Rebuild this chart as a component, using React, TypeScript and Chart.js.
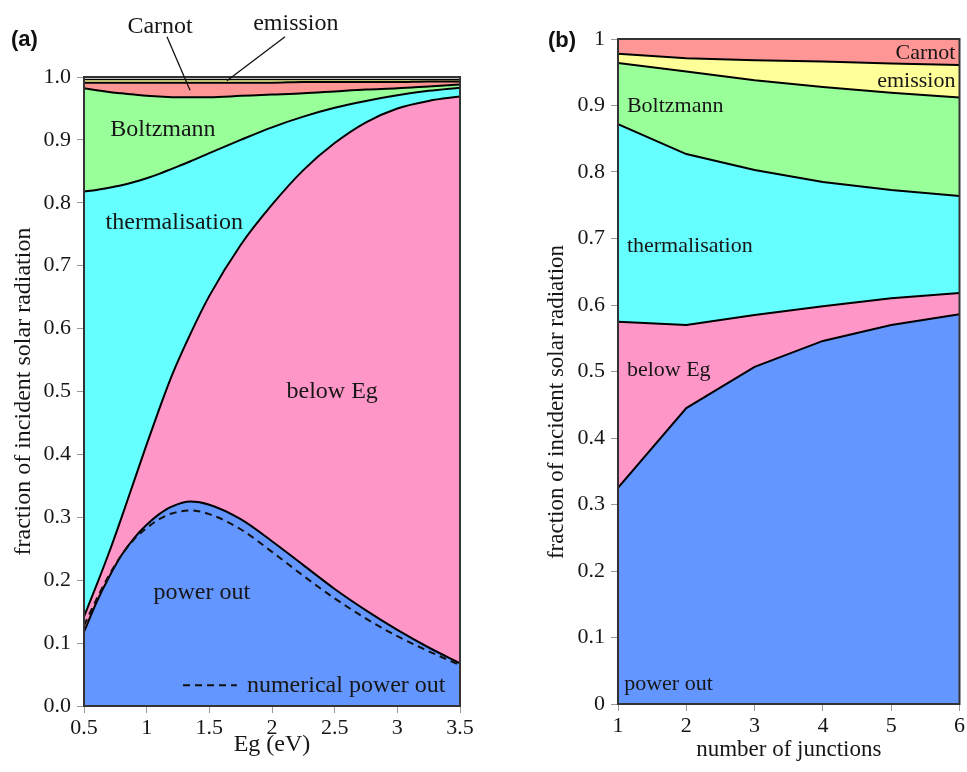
import React, { useEffect, useRef } from 'react';
import { Chart, registerables } from 'chart.js';
Chart.register(...registerables);

// ---------- Panel (a) data ----------
const EG = [0.5, 0.6, 0.7, 0.8, 0.9, 1.0, 1.1, 1.2, 1.35, 1.5, 1.75, 2.0, 2.25, 2.5, 2.75, 3.0, 3.25, 3.5];
const POWER_OUT = [0.118, 0.165, 0.205, 0.240, 0.267, 0.288, 0.305, 0.317, 0.325, 0.320, 0.297, 0.262, 0.224, 0.186, 0.152, 0.121, 0.093, 0.068];
const NUMERICAL_POWER_OUT = [0.128, 0.170, 0.208, 0.240, 0.265, 0.283, 0.297, 0.306, 0.311, 0.305, 0.281, 0.245, 0.207, 0.171, 0.139, 0.111, 0.087, 0.065];
const BELOW_EG_TOP = [0.142, 0.192, 0.244, 0.300, 0.358, 0.416, 0.472, 0.525, 0.592, 0.652, 0.733, 0.797, 0.852, 0.895, 0.928, 0.950, 0.962, 0.969];
const THERM_TOP = [0.818, 0.8205, 0.824, 0.828, 0.833, 0.839, 0.846, 0.854, 0.866, 0.879, 0.900, 0.920, 0.937, 0.951, 0.962, 0.971, 0.978, 0.983];
const BOLTZ_TOP = [0.982, 0.979, 0.976, 0.974, 0.972, 0.970, 0.969, 0.968, 0.968, 0.968, 0.970, 0.972, 0.974, 0.977, 0.980, 0.982, 0.985, 0.988];
const CARNOT_TOP = [0.991, 0.991, 0.991, 0.991, 0.991, 0.991, 0.991, 0.991, 0.991, 0.991, 0.991, 0.991, 0.992, 0.992, 0.992, 0.992, 0.993, 0.993];
const EMISSION_TOP = [0.996, 0.996, 0.996, 0.996, 0.996, 0.996, 0.996, 0.996, 0.996, 0.996, 0.996, 0.996, 0.996, 0.996, 0.996, 0.996, 0.996, 0.996];

// ---------- Panel (b) data ----------
const JUNCTIONS = [1, 2, 3, 4, 5, 6];
const B_POWER_OUT = [0.325, 0.445, 0.507, 0.546, 0.570, 0.586];
const B_BELOW_EG_TOP = [0.575, 0.570, 0.585, 0.598, 0.610, 0.618];
const B_THERM_TOP = [0.872, 0.827, 0.803, 0.785, 0.773, 0.764];
const B_BOLTZ_TOP = [0.964, 0.951, 0.938, 0.928, 0.919, 0.912];
const B_EMISSION_TOP = [0.978, 0.971, 0.968, 0.966, 0.963, 0.961];
const B_CARNOT_TOP = [1, 1, 1, 1, 1, 1];

const SERIF = '"Liberation Serif", "Times New Roman", serif';
const TEXT = '#161616';
const COLORS = {
  power: '#6496ff',
  below: '#ff96c8',
  therm: '#66ffff',
  boltz: '#99ff99',
  carnot: '#ff9696',
  emission: '#ffff99',
};

function pts(xs: number[], ys: number[]) {
  return xs.map((x, i) => ({ x, y: ys[i] }));
}

function area(label: string, xs: number[], ys: number[], fill: any, color: string, smooth: boolean, bw = 2) {
  return {
    label,
    data: pts(xs, ys),
    fill,
    backgroundColor: color,
    borderColor: '#000',
    borderWidth: bw,
    pointRadius: 0,
    cubicInterpolationMode: smooth ? 'monotone' : 'default',
    tension: 0,
  };
}

type Lbl = { text: string; x: number; y: number; align: CanvasTextAlign; size: number };
type Seg = { x1: number; y1: number; x2: number; y2: number; dash?: number[] };
type VTitle = { text: string; px: number; py: number; size: number } | null;

function labelPlugin(id: string, labels: Lbl[], segs: Seg[], vtitle: VTitle) {
  return {
    id,
    afterDraw(chart: any) {
      const { ctx, scales } = chart;
      const xs = scales.x;
      const ys = scales.y;
      ctx.save();
      const a = chart.chartArea;
      ctx.strokeStyle = '#333';
      ctx.lineWidth = 2;
      ctx.strokeRect(a.left, a.top, a.right - a.left, a.bottom - a.top);
      for (const s of segs) {
        ctx.beginPath();
        ctx.setLineDash(s.dash || []);
        ctx.strokeStyle = '#111';
        ctx.lineWidth = s.dash ? 2 : 1.3;
        ctx.moveTo(xs.getPixelForValue(s.x1), ys.getPixelForValue(s.y1));
        ctx.lineTo(xs.getPixelForValue(s.x2), ys.getPixelForValue(s.y2));
        ctx.stroke();
      }
      ctx.setLineDash([]);
      ctx.fillStyle = TEXT;
      ctx.textBaseline = 'middle';
      for (const l of labels) {
        ctx.font = `${l.size}px ${SERIF}`;
        ctx.textAlign = l.align;
        ctx.fillText(l.text, xs.getPixelForValue(l.x), ys.getPixelForValue(l.y));
      }
      if (vtitle) {
        ctx.save();
        ctx.translate(vtitle.px, vtitle.py);
        ctx.rotate(-Math.PI / 2);
        ctx.font = `${vtitle.size}px ${SERIF}`;
        ctx.textAlign = 'center';
        ctx.fillText(vtitle.text, 0, 0);
        ctx.restore();
      }
      ctx.restore();
    },
  };
}

const LEFT_LABELS: Lbl[] = [
  { text: 'Carnot', x: 1.107, y: 1.08, align: 'center', size: 24 },
  { text: 'emission', x: 2.19, y: 1.085, align: 'center', size: 24 },
  { text: 'Boltzmann', x: 1.13, y: 0.916, align: 'center', size: 24 },
  { text: 'thermalisation', x: 1.22, y: 0.769, align: 'center', size: 24 },
  { text: 'below Eg', x: 2.48, y: 0.499, align: 'center', size: 24 },
  { text: 'power out', x: 1.44, y: 0.18, align: 'center', size: 24 },
  { text: 'numerical power out', x: 1.8, y: 0.032, align: 'left', size: 24 },
];
const LEFT_SEGS: Seg[] = [
  { x1: 1.162, y1: 1.064, x2: 1.346, y2: 0.979 },
  { x1: 2.104, y1: 1.064, x2: 1.64, y2: 0.994 },
  { x1: 1.29, y1: 0.033, x2: 1.72, y2: 0.033, dash: [7, 5] },
];

const RIGHT_LABELS: Lbl[] = [
  { text: 'Carnot', x: 5.94, y: 0.979, align: 'right', size: 22 },
  { text: 'emission', x: 5.94, y: 0.937, align: 'right', size: 22 },
  { text: 'Boltzmann', x: 1.13, y: 0.899, align: 'left', size: 22 },
  { text: 'thermalisation', x: 1.13, y: 0.689, align: 'left', size: 22 },
  { text: 'below Eg', x: 1.13, y: 0.502, align: 'left', size: 22 },
  { text: 'power out', x: 1.09, y: 0.029, align: 'left', size: 22 },
];

function axisCommon(size: number) {
  return {
    grid: { drawOnChartArea: false, drawTicks: true, tickLength: 7, color: '#999' },
    border: { display: true, color: '#333', width: 2 },
    ticks: { color: TEXT, font: { family: SERIF, size } },
  };
}

function leftConfig(): any {
  const c = axisCommon(22);
  return {
    type: 'line',
    data: {
      datasets: [
        area('power out', EG, POWER_OUT, 'origin', COLORS.power, true),
        area('below Eg', EG, BELOW_EG_TOP, '-1', COLORS.below, true),
        area('thermalisation', EG, THERM_TOP, '-1', COLORS.therm, true),
        area('Boltzmann', EG, BOLTZ_TOP, '-1', COLORS.boltz, true),
        area('Carnot', EG, CARNOT_TOP, '-1', COLORS.carnot, true),
        area('emission', EG, EMISSION_TOP, '-1', COLORS.emission, true, 1.5),
        {
          label: 'numerical power out',
          data: pts(EG, NUMERICAL_POWER_OUT),
          fill: false,
          borderColor: '#111',
          borderWidth: 2,
          borderDash: [7, 5],
          pointRadius: 0,
          cubicInterpolationMode: 'monotone',
          order: -1,
        },
      ],
    },
    options: {
      responsive: false,
      animation: false,
      layout: { padding: { left: 0, top: 77, right: 20, bottom: 0 } },
      plugins: { legend: { display: false }, tooltip: { enabled: false } },
      scales: {
        x: {
          type: 'linear', min: 0.5, max: 3.5,
          ...c,
          ticks: { ...c.ticks, stepSize: 0.5, padding: 2, maxRotation: 0, callback: (v: any) => String(v) },
          title: { display: true, text: 'Eg (eV)', color: TEXT, font: { family: SERIF, size: 24 }, padding: { top: 0, bottom: 13 } },
          afterFit: (s: any) => { s.height = 66; },
        },
        y: {
          type: 'linear', min: 0, max: 1,
          ...c,
          ticks: { ...c.ticks, stepSize: 0.1, padding: 6, callback: (v: any) => Number(v).toFixed(1) },
          title: { display: true, text: 'fraction of incident solar radiation', color: TEXT, font: { family: SERIF, size: 24 }, padding: { top: 9, bottom: 0 } },
          afterFit: (s: any) => { s.width = 84; },
        },
      },
    },
    plugins: [labelPlugin('lblA', LEFT_LABELS, LEFT_SEGS, null)],
  };
}

function rightConfig(): any {
  const c = axisCommon(22);
  return {
    type: 'line',
    data: {
      datasets: [
        area('power out', JUNCTIONS, B_POWER_OUT, 'origin', COLORS.power, false),
        area('below Eg', JUNCTIONS, B_BELOW_EG_TOP, '-1', COLORS.below, false),
        area('thermalisation', JUNCTIONS, B_THERM_TOP, '-1', COLORS.therm, false),
        area('Boltzmann', JUNCTIONS, B_BOLTZ_TOP, '-1', COLORS.boltz, false),
        area('emission', JUNCTIONS, B_EMISSION_TOP, '-1', COLORS.emission, false),
        area('Carnot', JUNCTIONS, B_CARNOT_TOP, '-1', COLORS.carnot, false, 0),
      ],
    },
    options: {
      responsive: false,
      animation: false,
      layout: { padding: { left: 0, top: 39, right: 7, bottom: 0 } },
      plugins: { legend: { display: false }, tooltip: { enabled: false } },
      scales: {
        x: {
          type: 'linear', min: 1, max: 6,
          ...c,
          ticks: { ...c.ticks, stepSize: 1, padding: 2, maxRotation: 0, callback: (v: any) => String(v) },
          title: { display: true, text: 'number of junctions', color: TEXT, font: { family: SERIF, size: 23 }, padding: { top: 0, bottom: 8 } },
          afterFit: (s: any) => { s.height = 68; },
        },
        y: {
          type: 'linear', min: 0, max: 1,
          ...c,
          ticks: {
            ...c.ticks, stepSize: 0.1, padding: 6,
            callback: (v: any) => { const n = Math.round(Number(v) * 10) / 10; return n === 0 ? '0' : n === 1 ? '1' : n.toFixed(1); },
          },
          title: { display: false },
          afterFit: (s: any) => { s.width = 83; },
        },
      },
    },
    plugins: [labelPlugin('lblB', RIGHT_LABELS, [], { text: 'fraction of incident solar radiation', px: 22, py: 402, size: 23 })],
  };
}

function ChartCanvas({ config, left, width }: { config: () => any; left: number; width: number }) {
  const ref = useRef<HTMLCanvasElement | null>(null);
  useEffect(() => {
    if (!ref.current) return;
    const chart = new Chart(ref.current, config());
    return () => chart.destroy();
  }, []);
  return (
    <canvas
      ref={ref}
      width={width}
      height={772}
      style={{ position: 'absolute', left, top: 0, width, height: 772 }}
    />
  );
}

const panelLabel: React.CSSProperties = {
  position: 'absolute',
  fontFamily: '"Liberation Sans", Arial, sans-serif',
  fontWeight: 'bold',
  fontSize: 22,
  color: '#111',
  lineHeight: '22px',
};

export default function App() {
  return (
    <div style={{ position: 'absolute', left: 0, top: 0, width: 967, height: 772, background: '#fff', overflow: 'hidden' }}>
      <ChartCanvas config={leftConfig} left={0} width={480} />
      <ChartCanvas config={rightConfig} left={535} width={432} />
      <div style={{ ...panelLabel, left: 11, top: 28 }}>(a)</div>
      <div style={{ ...panelLabel, left: 548, top: 29 }}>(b)</div>
    </div>
  );
}
